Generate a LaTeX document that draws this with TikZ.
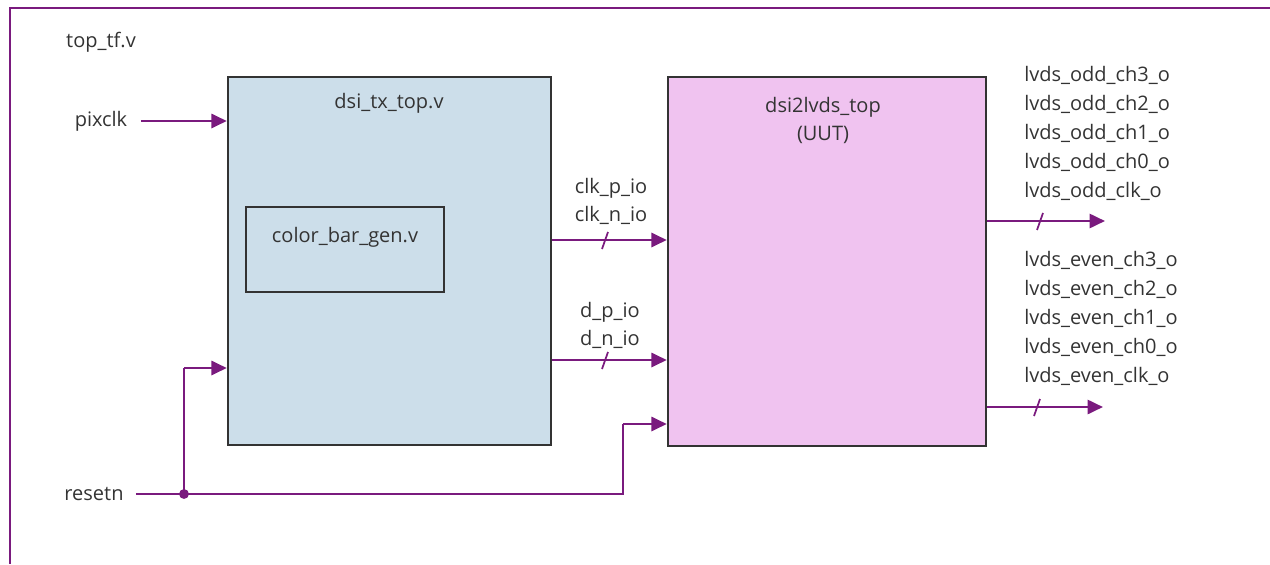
\documentclass[tikz,border=0pt]{standalone}
\usepackage{fontspec}
\setmainfont{Open Sans}
\usetikzlibrary{arrows.meta}

\definecolor{wire}{HTML}{7A1A7E}
\definecolor{edge}{HTML}{333333}
\definecolor{txfill}{HTML}{CCDEEA}
\definecolor{uutfill}{HTML}{F0C3F0}

\tikzset{
  sig/.style={draw=wire, line width=2pt, -{Triangle[length=11.5pt,width=10.5pt]}},
  rstline/.style={draw=wire, line width=1.3pt},
  tick/.style={draw=wire, line width=1.3pt},
  blk/.style={draw=edge, line width=1.8pt, inner sep=0pt},
  lbl/.style={text=edge, font=\fontsize{15}{21}\selectfont, inner sep=0pt},
}

\begin{document}
\begin{tikzpicture}[x=0.75pt,y=-0.75pt]
\useasboundingbox (0,0) rectangle (1270,564);
\draw[wire, line width=1.8pt] (1270,8) -- (10,8) -- (10,564);
\node[lbl] (topname) at (101,42) {top\_tf.v};

% blocks
\node[blk, fill=txfill, minimum width=242.25pt, minimum height=276pt] (tx) at (389.5,261) {};
\node[lbl] (txname) at (389,103) {dsi\_tx\_top.v};
\node[blk, fill=txfill, minimum width=148.5pt, minimum height=63.75pt] (cbar) at (345,249.5) {};
\node[lbl] (cbarname) at (345,237) {color\_bar\_gen.v};

\node[blk, fill=uutfill, minimum width=238.5pt, minimum height=276.75pt] (uut) at (827,261.5) {};
\node[lbl, align=center] (uutname) at (823,120) {dsi2lvds\_top\\(UUT)};

% inputs
\node[lbl] (pixclk) at (101,121) {pixclk};
\draw[sig] ([xshift=10pt]pixclk.east) -- (pixclk.east -| tx.west);

\node[lbl] (resetn) at (94,494) {resetn};
\coordinate (rstdot) at (184,494);
\coordinate (rstturn) at (623,494);
\coordinate (txrst) at (0,368);
\coordinate (uutrst) at (0,424);
\draw[rstline] ([xshift=9pt]resetn.east) -- (rstturn) -- (rstturn |- uutrst);
\draw[rstline] (rstdot) -- (rstdot |- txrst);
\draw[sig] (rstdot |- txrst) -- (tx.west |- txrst);
\draw[sig] (rstturn |- uutrst) -- (uut.west |- uutrst);
\fill[wire] (rstdot) circle (3.7pt);

% tx -> uut
\node[lbl, align=center] (clkname) at (611,201) {clk\_p\_io\\clk\_n\_io};
\node[lbl, align=center] (dname) at (610,325) {d\_p\_io\\d\_n\_io};
\coordinate (clkrow) at (605,240);
\coordinate (drow) at (605,360);
\foreach \r in {clkrow,drow} {
  \draw[sig] (tx.east |- \r) -- (uut.west |- \r);
  \draw[tick] ([shift={(3,-8)}]\r) -- ([shift={(-3,9)}]\r);
}

% outputs
\foreach \c [count=\i] in {ch3,ch2,ch1,ch0,clk} {
  \node[lbl, anchor=west] (odd\c) at (1024,{75+29*(\i-1)}) {lvds\_odd\_\c\_o};
  \node[lbl, anchor=west] (even\c) at (1024,{260+29*(\i-1)}) {lvds\_even\_\c\_o};
}
\coordinate (oddend) at (1105,221);
\coordinate (evenend) at (1103,407);
\coordinate (oddtick) at (1040,221);
\coordinate (eventick) at (1037,407);
\draw[sig] (uut.east |- oddend) -- (oddend);
\draw[sig] (uut.east |- evenend) -- (evenend);
\draw[tick] ([shift={(3,-8)}]oddtick) -- ([shift={(-3,9)}]oddtick);
\draw[tick] ([shift={(3,-8)}]eventick) -- ([shift={(-3,9)}]eventick);

\end{tikzpicture}
\end{document}
